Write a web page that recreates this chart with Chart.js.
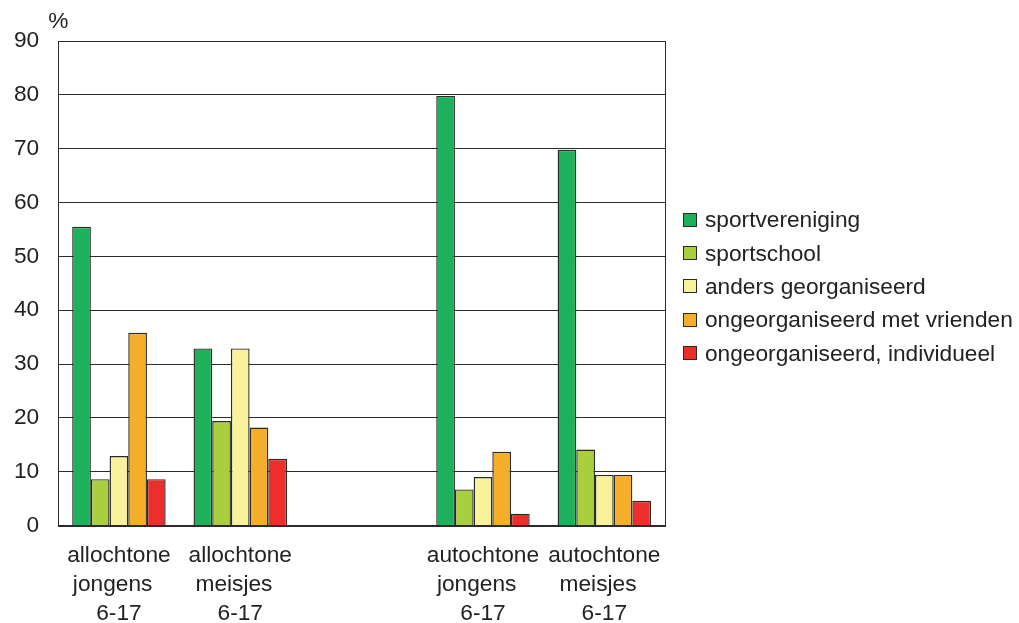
<!DOCTYPE html>
<html>
<head>
<meta charset="utf-8">
<script src="https://cdn.jsdelivr.net/npm/chart.js@4.4.1/dist/chart.umd.min.js"></script>
<style>
  body { margin: 0; background: #fff; }
  #wrap { position: relative; width: 1019px; height: 623px; }
  #legend {
    position: absolute; left: 683px; top: 203px;
    font: 22.7px "Liberation Sans", Arial, sans-serif; color: #222;
  }
  #legend .item { display: flex; align-items: center; height: 33.4px; white-space: nowrap; }
  #legend .box { width: 12px; height: 12px; border: 1px solid #2a2a2a; margin-right: 8px; }
</style>
</head>
<body>
<div id="wrap"><canvas id="sportChart"></canvas><div id="legend"></div></div>
<script>
// groups on the x axis (third slot is an empty gap in the original)
const categories = [
    ["allochtone", "jongens  ", "6-17"],
    ["allochtone", "meisjes  ", "6-17"],
    "",
    ["autochtone", "jongens  ", "6-17"],
    ["autochtone", "meisjes  ", "6-17"]
];

const seriesNames = [
    "sportvereniging",
    "sportschool",
    "anders georganiseerd",
    "ongeorganiseerd met vrienden",
    "ongeorganiseerd, individueel"
];

const sportvereniging = [55.5, 32.9, null, 79.8, 69.8];
const sportschool = [8.6, 19.4, null, 6.7, 14.1];
const andersGeorganiseerd = [12.9, 32.9, null, 9.0, 9.4];
const metVrienden = [35.8, 18.2, null, 13.7, 9.4];
const individueel = [8.6, 12.4, null, 2.2, 4.6];

const yTicks = [0, 10, 20, 30, 40, 50, 60, 70, 80, 90];

const colors = ['#1db15b', '#a9cf3e', '#f8f39b', '#f5ae2a', '#ed2e2a'];

const FONT = '"Liberation Sans", Arial, sans-serif';

// frame round the plot area + "%" above the y axis
const frame = {
    id: 'frame',
    afterDraw(chart) {
        const { ctx, chartArea: a } = chart;
        ctx.save();
        ctx.strokeStyle = '#2b2b2b';
        ctx.lineWidth = 1;
        ctx.strokeRect(Math.round(a.left) + 0.5, Math.round(a.top) + 0.5,
                       Math.round(a.right - a.left), Math.round(a.bottom - a.top));
        ctx.fillStyle = '#222';
        ctx.font = '22.7px ' + FONT;
        ctx.textAlign = 'center';
        ctx.textBaseline = 'middle';
        ctx.fillText('%', a.left, a.top - 19);
        ctx.restore();
    }
};

const ctx = document.getElementById('sportChart').getContext('2d');
const allSeries = [sportvereniging, sportschool, andersGeorganiseerd, metVrienden, individueel];

const chart = new Chart(ctx, {
    type: 'bar',
    data: {
        labels: categories,
        datasets: allSeries.map((vals, i) => ({
            label: seriesNames[i],
            data: vals,
            backgroundColor: colors[i],
            borderColor: '#2a2a2a',
            borderWidth: 1.4,
            borderSkipped: 'bottom'
        }))
    },
    options: {
        responsive: true,
        maintainAspectRatio: false,
        animation: false,
        datasets: {
            bar: {
                categoryPercentage: 0.77,
                barPercentage: 1
            }
        },
        layout: {
            padding: { top: 41, left: -5, right: 354, bottom: -21 }
        },
        scales: {
            x: {
                grid: { display: false, drawTicks: false },
                border: { color: '#2b2b2b' },
                ticks: {
                    color: '#222',
                    padding: 16,
                    maxRotation: 0,
                    autoSkip: false,
                    font: { family: FONT, size: 22.7, lineHeight: 1.27 }
                }
            },
            y: {
                min: 0,
                max: 90,
                afterBuildTicks(axis) {
                    axis.ticks = yTicks.map(v => ({ value: v }));
                },
                grid: { color: '#2b2b2b', lineWidth: 1, drawTicks: false },
                border: { color: '#2b2b2b' },
                ticks: {
                    color: '#222',
                    padding: 19,
                    font: { family: FONT, size: 22.7 }
                }
            }
        },
        plugins: {
            legend: { display: false },
            tooltip: { enabled: false }
        }
    },
    plugins: [frame]
});

// legend beside the plot, built from the chart's datasets
const legendDiv = document.getElementById('legend');
chart.data.datasets.forEach(ds => {
    const row = document.createElement('div');
    row.className = 'item';
    row.innerHTML = `<span class="box" style="background:${ds.backgroundColor}"></span><span>${ds.label}</span>`;
    legendDiv.appendChild(row);
});
</script>
</body>
</html>
